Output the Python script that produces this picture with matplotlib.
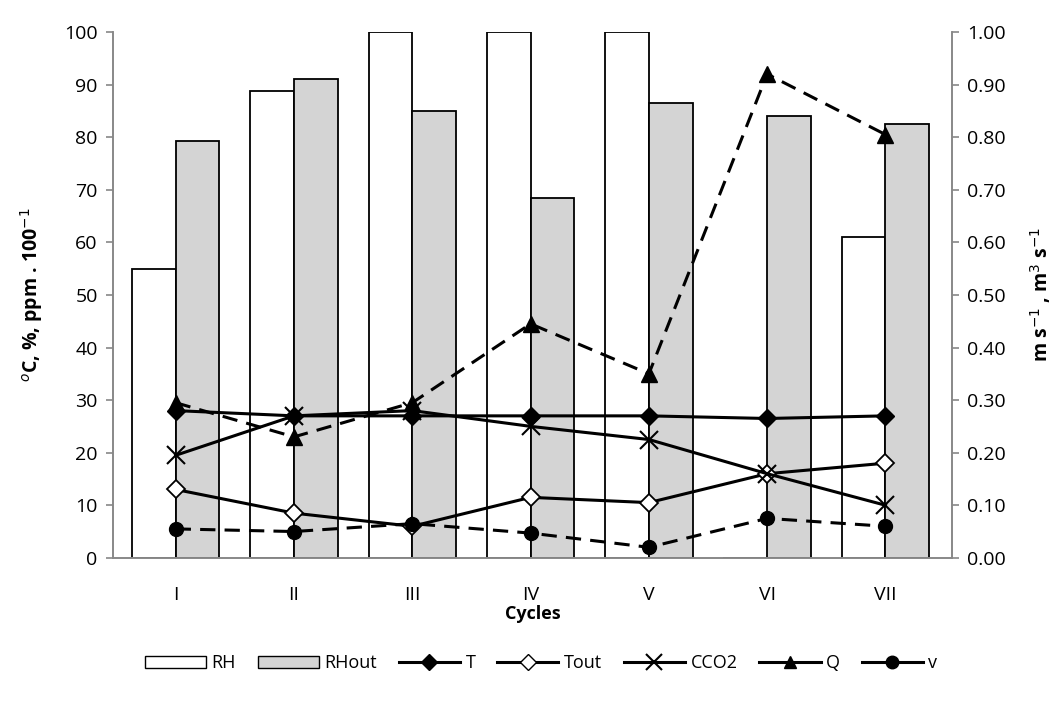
import numpy as np
import matplotlib.pyplot as plt
from matplotlib.lines import Line2D
from matplotlib.patches import Patch

plt.rcParams['font.family'] = ['Open Sans', 'DejaVu Sans']

cycles = ['I', 'II', 'III', 'IV', 'V', 'VI', 'VII']
rh = [55, 88.8, 100, 100, 100, 0, 61]
rh_out = [79.2, 91, 85, 68.5, 86.5, 84, 82.5]
t_in = [28, 27, 27, 27, 27, 26.5, 27]
t_out = [13, 8.5, 6, 11.5, 10.5, 16, 18]
cco2 = [19.5, 27, 28, 25, 22.5, 16, 10]
q = [0.295, 0.23, 0.295, 0.445, 0.35, 0.92, 0.805]
v = [0.055, 0.05, 0.065, 0.047, 0.02, 0.075, 0.06]

x = np.arange(len(cycles))
w = 0.37

fig = plt.figure(figsize=(10.61, 7.07), dpi=100)
ax = fig.add_axes([0.1065, 0.211, 0.7905, 0.7437])
ax2 = ax.twinx()

ax.bar(x - w / 2, rh, w, color='white', edgecolor='black', linewidth=1.3, zorder=2)
ax.bar(x + w / 2, rh_out, w, color='#d4d4d4', edgecolor='black', linewidth=1.3, zorder=2)

ax.plot(x, t_in, '-', color='black', lw=2.2, marker='D', ms=9, zorder=4)
ax.plot(x, t_out, '-', color='black', lw=2.2, marker='D', ms=9, mfc='white', mec='black', mew=1.3, zorder=4)
ax.plot(x, cco2, '-', color='black', lw=2.2, marker='x', ms=13, mew=1.5, zorder=4)
ax2.plot(x, q, '--', color='black', lw=2.2, marker='^', ms=11, dashes=(5, 3), zorder=4)
ax2.plot(x, v, '--', color='black', lw=2.2, marker='o', ms=10, dashes=(5, 3), zorder=4)

ax.set_xlim(-0.53, 6.56)
ax.set_ylim(0, 100)
ax2.set_ylim(0, 1.0)
ax.set_yticks(np.arange(0, 101, 10))
ax2.set_yticks(np.arange(0, 1.01, 0.1))
ax2.set_yticklabels([f'{t:.2f}' for t in np.arange(0, 1.01, 0.1)])
ax.set_xticks(x)
ax.set_xticklabels(cycles)

for a in (ax, ax2):
    a.spines['top'].set_visible(False)
    for s in ('left', 'right', 'bottom'):
        a.spines[s].set_color('#888888')
        a.spines[s].set_linewidth(1.2)
    a.tick_params(axis='y', labelsize=14, colors='#888888', labelcolor='black', length=5, width=1.2, pad=6)
ax.tick_params(axis='x', length=0, labelsize=14, pad=20)

ax.set_xlabel('Cycles', fontsize=13, fontweight='bold', labelpad=1)
ax.set_ylabel('$^{o}$C, %, ppm . 100$^{-1}$', fontsize=14, fontweight='bold', labelpad=14)
ax2.set_ylabel('m s$^{-1}$ , m$^{3}$ s$^{-1}$', fontsize=14, fontweight='bold', labelpad=16)

handles = [
    Patch(facecolor='white', edgecolor='black', label='RH'),
    Patch(facecolor='#d4d4d4', edgecolor='black', label='RHout'),
    Line2D([], [], color='black', lw=2.2, marker='D', ms=8, label='T'),
    Line2D([], [], color='black', lw=2.2, marker='D', ms=8, mfc='white', label='Tout'),
    Line2D([], [], color='black', lw=2.2, marker='x', ms=11, mew=1.5, label='CCO2'),
    Line2D([], [], color='black', lw=2.2, marker='^', ms=9, label='Q'),
    Line2D([], [], color='black', lw=2.2, marker='o', ms=9, label='v'),
]
fig.legend(handles=handles, loc='center', bbox_to_anchor=(0.51, 0.062), ncol=7,
           frameon=False, fontsize=13, handlelength=3.4, columnspacing=1.2, handletextpad=0.3)

fig.savefig('out.png', dpi=100)
